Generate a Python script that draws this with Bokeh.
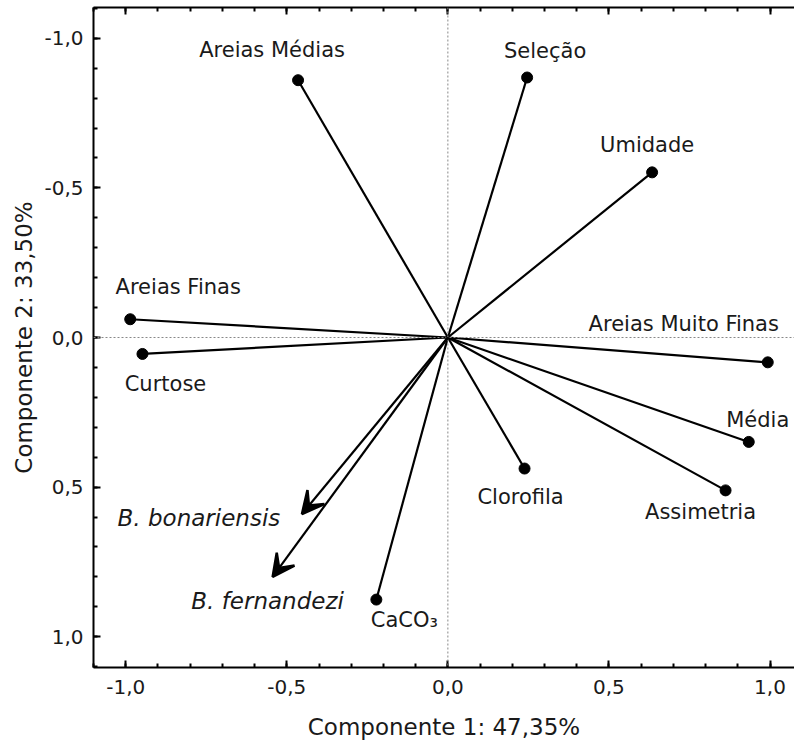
from bokeh.plotting import figure
from bokeh.models import (Range1d, FixedTicker, LinearAxis, Span, Arrow, VeeHead,
                          ColumnDataSource)
from bokeh.embed import file_html
from bokeh.resources import INLINE
from bokeh.core.properties import value

# ---------------- data ----------------
variables = ["Areias Médias", "Seleção", "Umidade", "Areias Finas", "Curtose",
             "Areias Muito Finas", "Média", "Clorofila", "Assimetria", "CaCO₃"]
comp1 = [-0.465, 0.246, 0.634, -0.986, -0.948, 0.993, 0.934, 0.238, 0.862, -0.222]
comp2 = [-0.860, -0.869, -0.552, -0.061, 0.055, 0.083, 0.349, 0.438, 0.511, 0.876]

species = ["B. bonariensis", "B. fernandezi"]
sp_comp1 = [-0.453, -0.544]
sp_comp2 = [0.590, 0.800]

tick_values = [-1.0, -0.5, 0.0, 0.5, 1.0]
tick_labels = ["-1,0", "-0,5", "0,0", "0,5", "1,0"]
x_title = "Componente 1: 47,35%"
y_title = "Componente 2: 33,50%"

# label placement (pixel offsets from each point, screen units)
var_dx = [-26, 18, -5, 48, 23, -84, 9, -4, -25, 28]
var_dy = [-30, -27, -27, -32, 30, -38, -22, 28, 22, 20]
sp_dx = [-103, -5]
sp_dy = [4, 24]

FONT = "DejaVu Sans"
INK = "#1a1a1a"

p = figure(width=794, height=742, output_backend="svg", toolbar_location=None,
           x_range=Range1d(-1.1, 1.076), y_range=Range1d(1.103, -1.103),
           x_axis_location="below", y_axis_location="left")
p.min_border_left = 93
p.min_border_right = 0
p.min_border_top = 7
p.min_border_bottom = 74
p.grid.visible = False
p.outline_line_color = None
p.background_fill_color = "white"
p.border_fill_color = "white"

minor = [round(-1.1 + 0.1 * i, 1) for i in range(23)]


def style_axis(ax, labels=True):
    ax.ticker = FixedTicker(ticks=tick_values, minor_ticks=minor)
    ax.major_tick_in = 7
    ax.major_tick_out = 0
    ax.minor_tick_in = 4
    ax.minor_tick_out = 0
    ax.axis_line_width = 2
    ax.axis_line_color = "black"
    ax.major_tick_line_width = 2
    ax.minor_tick_line_width = 2
    ax.major_label_text_font = FONT
    ax.major_label_text_color = INK
    ax.major_label_text_font_size = "20px"
    ax.axis_label_text_font = FONT
    ax.axis_label_text_font_style = "normal"
    ax.axis_label_text_color = INK
    ax.axis_label_text_font_size = "23px"
    if labels:
        ax.major_label_overrides = dict(zip(tick_values, tick_labels))
        ax.major_label_standoff = 10
    else:
        ax.major_label_overrides = {v: "" for v in tick_values}
        ax.major_label_standoff = 0


style_axis(p.xaxis[0])
style_axis(p.yaxis[0])
p.xaxis[0].axis_label = x_title
p.yaxis[0].axis_label = y_title
p.xaxis[0].axis_label_standoff = 17
p.xaxis[0].major_label_standoff = 12
p.yaxis[0].axis_label_standoff = 4

top = LinearAxis()
style_axis(top, labels=False)
p.add_layout(top, "above")

# dotted reference lines
p.add_layout(Span(location=0, dimension="height", line_color="#888888",
                  line_dash="2 2", line_width=1))
p.add_layout(Span(location=0, dimension="width", line_color="#888888",
                  line_dash="2 2", line_width=1))

# variable vectors
vsrc = ColumnDataSource(dict(x=comp1, y=comp2, x0=[0] * len(comp1), y0=[0] * len(comp1),
                             name=variables, dx=var_dx, dy=var_dy))
p.segment(x0="x0", y0="y0", x1="x", y1="y", source=vsrc, line_color="black", line_width=2.2)
p.scatter(x="x", y="y", source=vsrc, size=11, fill_color="black", line_color="black")
p.text(x="x", y="y", text="name", source=vsrc, x_offset="dx", y_offset="dy",
       text_font=value(FONT), text_font_size="21px", text_color=INK,
       text_align="center", text_baseline="middle")

# species arrows
ssrc = ColumnDataSource(dict(x=sp_comp1, y=sp_comp2, x0=[0] * len(sp_comp1),
                             y0=[0] * len(sp_comp1), name=species, dx=sp_dx, dy=sp_dy))
p.add_layout(Arrow(end=VeeHead(size=22, fill_color="black", fill_alpha=1.0,
                               line_color="black", line_width=2.5),
                   x_start="x0", y_start="y0", x_end="x", y_end="y", source=ssrc,
                   line_color="black", line_width=2.2))
p.text(x="x", y="y", text="name", source=ssrc, x_offset="dx", y_offset="dy",
       text_font=value(FONT), text_font_size="23px", text_font_style="italic",
       text_color=INK, text_align="center", text_baseline="middle")

open("out.html", "w").write(file_html(p, INLINE))
